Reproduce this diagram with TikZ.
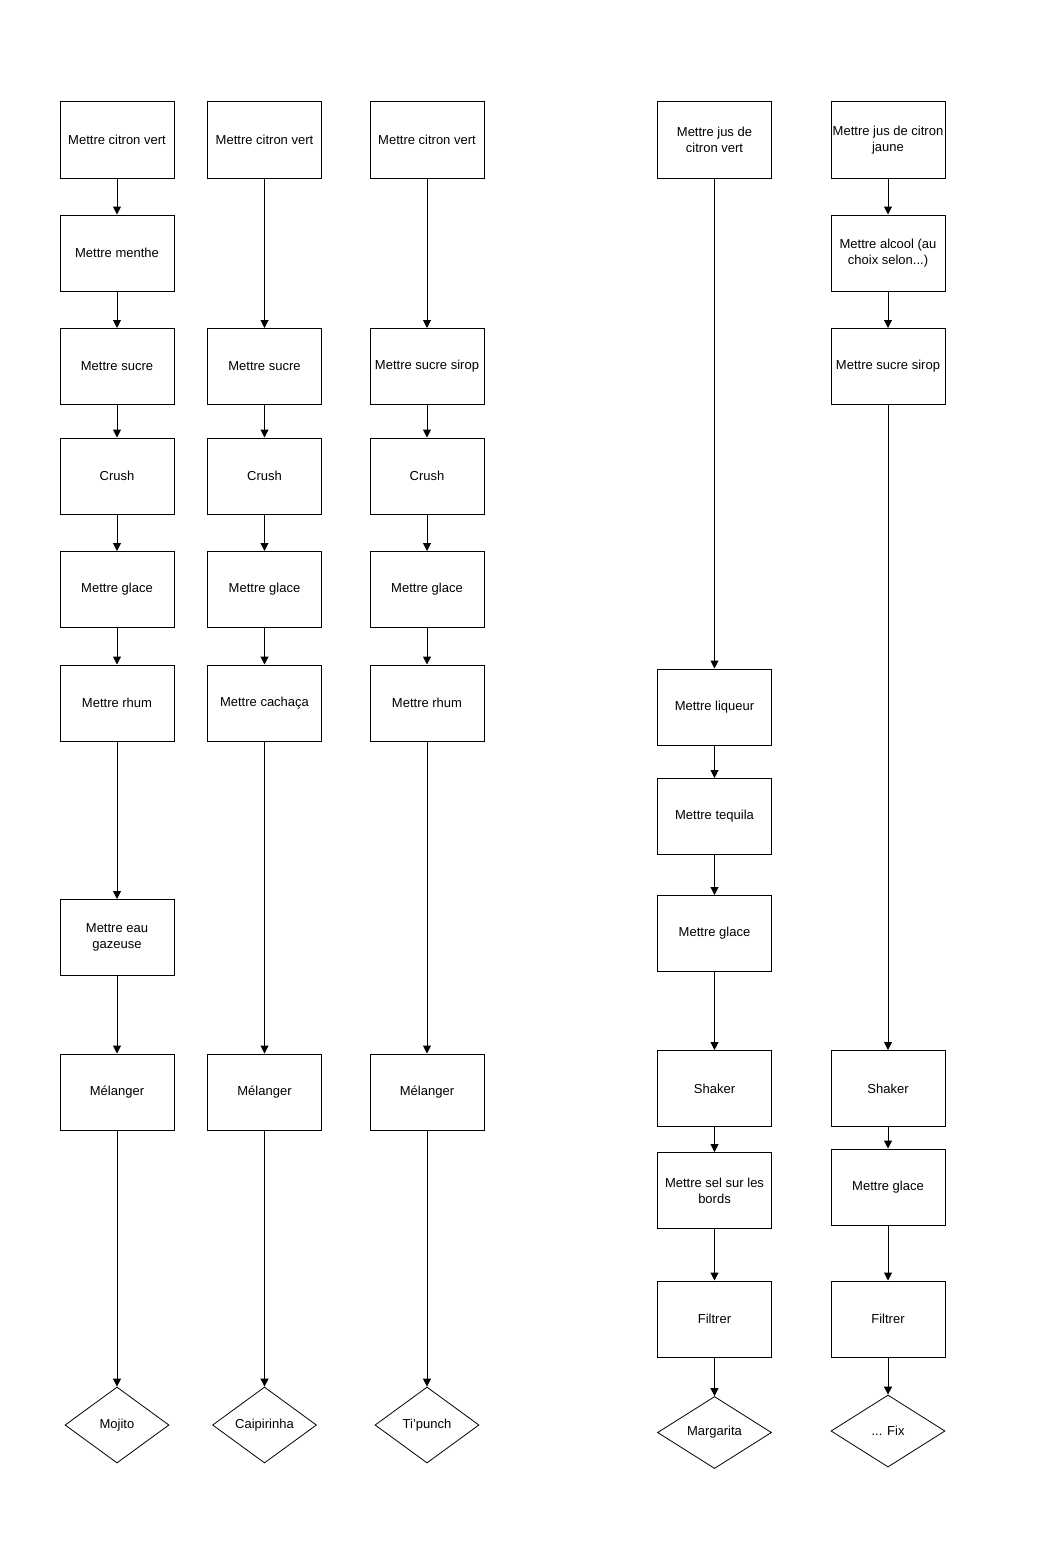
\documentclass[tikz,border=0pt]{standalone}
\usepackage{fontspec}
\setmainfont{Liberation Sans}
\usetikzlibrary{shapes.geometric,arrows.meta}
\tikzset{
  stepbox/.style={draw, line width=1pt, minimum width=114pt, minimum height=76pt, inner sep=0pt, align=center, font=\fontsize{13}{16}\selectfont},
  endbox/.style={draw, line width=0.8pt, diamond, aspect=1.37, minimum width=104pt, minimum height=76pt, inner sep=0pt, font=\fontsize{13}{16}\selectfont},
  wideend/.style={endbox, aspect=1.58, minimum width=114pt, minimum height=72pt},
  flow/.style={line width=1pt, -{Triangle[length=8pt,width=8pt]}}
}
\begin{document}
\begin{tikzpicture}[x=1pt,y=-1pt]
\useasboundingbox[fill=white] (0,0) rectangle (1064,1560);
% column 1
\node[stepbox] (a1) at (117,140) {Mettre citron vert};
\node[stepbox] (a2) at (117,253) {Mettre menthe};
\node[stepbox] (a3) at (117,366.5) {Mettre sucre};
\node[stepbox] (a4) at (117,476) {Crush};
\node[stepbox] (a5) at (117,589.5) {Mettre glace};
\node[stepbox] (a6) at (117,703) {Mettre rhum};
\node[stepbox] (a7) at (117,937.5) {Mettre eau\\gazeuse};
\node[stepbox] (a8) at (117,1092) {Mélanger};
\node[endbox] (a9) at (117,1425) {Mojito};
% column 2
\node[stepbox] (b1) at (264.5,140) {Mettre citron vert};
\node[stepbox] (b3) at (264.5,366.5) {Mettre sucre};
\node[stepbox] (b4) at (264.5,476) {Crush};
\node[stepbox] (b5) at (264.5,589.5) {Mettre glace};
\node[stepbox] (b6) at (264.5,703) {Mettre cachaça};
\node[stepbox] (b8) at (264.5,1092) {Mélanger};
\node[endbox] (b9) at (264.5,1425) {Caipirinha};
% column 3
\node[stepbox] (c1) at (427,140) {Mettre citron vert};
\node[stepbox] (c3) at (427,366.5) {Mettre sucre sirop};
\node[stepbox] (c4) at (427,476) {Crush};
\node[stepbox] (c5) at (427,589.5) {Mettre glace};
\node[stepbox] (c6) at (427,703) {Mettre rhum};
\node[stepbox] (c8) at (427,1092) {Mélanger};
\node[endbox] (c9) at (427,1425) {Ti'punch};
% column 4
\node[stepbox] (d1) at (714.5,140) {Mettre jus de\\citron vert};
\node[stepbox] (d2) at (714.5,707) {Mettre liqueur};
\node[stepbox] (d3) at (714.5,816.5) {Mettre tequila};
\node[stepbox] (d4) at (714.5,933.5) {Mettre glace};
\node[stepbox] (d5) at (714.5,1088.5) {Shaker};
\node[stepbox] (d6) at (714.5,1190.5) {Mettre sel sur les\\bords};
\node[stepbox] (d7) at (714.5,1319) {Filtrer};
\node[wideend] (d9) at (714.5,1432.5) {Margarita};
% column 5
\node[stepbox] (e1) at (888,140) {Mettre jus de citron\\jaune};
\node[stepbox] (e2) at (888,253) {Mettre alcool (au\\choix selon...)};
\node[stepbox] (e3) at (888,366.5) {Mettre sucre sirop};
\node[stepbox] (e4) at (888,1088.5) {Shaker};
\node[stepbox] (e5) at (888,1187) {Mettre glace};
\node[stepbox] (e6) at (888,1319) {Filtrer};
\node[wideend] (e9) at (888,1431) {... Fix};
% connectors
\foreach \u/\v in {a1/a2,a2/a3,a3/a4,a4/a5,a5/a6,a6/a7,a7/a8,a8/a9,
  b1/b3,b3/b4,b4/b5,b5/b6,b6/b8,b8/b9,
  c1/c3,c3/c4,c4/c5,c5/c6,c6/c8,c8/c9,
  d1/d2,d2/d3,d3/d4,d4/d5,d5/d6,d6/d7,d7/d9,
  e1/e2,e2/e3,e3/e4,e4/e5,e5/e6,e6/e9}
  \draw[flow] (\u) -- (\v);
\end{tikzpicture}
\end{document}
